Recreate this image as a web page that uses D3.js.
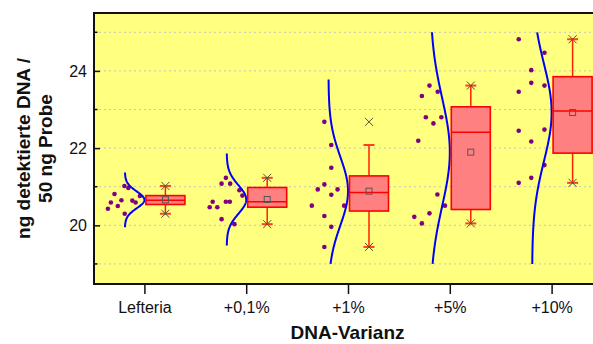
<!DOCTYPE html>
<html>
<head>
<meta charset="utf-8">
<script src="https://cdn.jsdelivr.net/npm/d3@7/dist/d3.min.js"></script>
<style>
  html, body { margin: 0; padding: 0; background: #fff; }
  svg { display: block; }
  text { font-family: "Liberation Sans", Arial, sans-serif; }
</style>
</head>
<body>
<svg id="chart" width="593" height="344"></svg>
<script>
// Groups along the x axis
const categories = ["Lefteria", "+0,1%", "+1%", "+5%", "+10%"];

// Individual measurements (ng detected DNA per 50 ng sample), one list per group
const valuesLefteria = [21.02, 20.97, 20.81, 20.76, 20.65, 20.59, 20.64, 20.59, 20.50, 20.43, 20.30];
const valuesP01 = [21.23, 21.08, 21.08, 20.91, 20.77, 20.61, 20.61, 20.61, 20.47, 20.47, 20.16, 20.03];
const valuesP1 = [22.68, 22.08, 21.49, 21.06, 20.93, 20.93, 20.79, 20.51, 20.51, 20.24, 19.96, 19.44];
const valuesP5 = [23.62, 23.35, 23.46, 22.80, 22.80, 22.64, 22.19, 20.80, 20.51, 20.31, 20.22, 20.05];
const valuesP10 = [24.82, 24.47, 24.02, 23.69, 23.62, 23.46, 22.45, 22.48, 22.17, 21.56, 21.23, 21.10];

// Jitter of each point inside its scatter strip (0 = left, 1 = right)
const jitterLefteria = [0.50, 0.62, 0.20, 0.97, 0.41, 0.09, 0.74, 0.84, 0.30, 0.00, 0.51];
const jitterP01 = [0.49, 0.36, 0.62, 0.90, 0.99, 0.09, 0.49, 0.61, 0.00, 0.23, 0.36, 0.75];
const jitterP1 = [0.39, 0.60, 0.60, 0.39, 0.19, 0.79, 0.60, 0.01, 0.99, 0.39, 0.60, 0.39];
const jitterP5 = [0.49, 0.26, 0.74, 0.38, 0.85, 0.61, 0.15, 0.73, 0.96, 0.49, 0.03, 0.26];
const jitterP10 = [0.11, 0.89, 0.49, 0.49, 0.89, 0.11, 0.11, 0.89, 0.49, 0.89, 0.49, 0.11];

// Box statistics per group
const q1 = [20.54, 20.47, 20.37, 20.41, 21.87];
const median = [20.65, 20.61, 20.85, 22.41, 22.96];
const q3 = [20.77, 20.98, 21.28, 23.07, 23.85];
const whiskerLow = [20.30, 20.03, 19.44, 20.05, 21.10];
const whiskerHigh = [21.02, 21.23, 22.08, 23.62, 24.82];

// Axis ticks
const majorTicks = [20, 22, 24];
const minorTicks = [19, 21, 23, 25];
const gridTicks = [19, 20, 21, 22, 23, 24, 25];
const yDomain = [18.48, 25.5];
const curveLimits = [19, 25];

const groups = categories.map((c, i) => ({
  name: c,
  values: [valuesLefteria, valuesP01, valuesP1, valuesP5, valuesP10][i],
  jitter: [jitterLefteria, jitterP01, jitterP1, jitterP5, jitterP10][i],
  q1: q1[i], median: median[i], q3: q3[i],
  wLo: whiskerLow[i], wHi: whiskerHigh[i]
}));

const svg = d3.select("#chart");
const plot = { left: 94, right: 603, top: 13, bottom: 284 };

const x = d3.scaleBand().domain(categories).range([plot.left, plot.right]).padding(0);
const y = d3.scaleLinear().domain(yDomain).range([plot.bottom, plot.top]);
const xc = c => x(c) + x.bandwidth() / 2;

// Plot background
svg.append("rect")
  .attr("x", plot.left).attr("y", plot.top)
  .attr("width", plot.right - plot.left).attr("height", plot.bottom - plot.top)
  .attr("fill", "#ffff80");

// Dotted grid
svg.append("g").selectAll("line").data(gridTicks).join("line")
  .attr("x1", plot.left).attr("x2", plot.right)
  .attr("y1", d => y(d)).attr("y2", d => y(d))
  .attr("stroke", "#c4c4c4").attr("stroke-width", 1)
  .attr("stroke-dasharray", "2,3");

svg.append("clipPath").attr("id", "plotClip").append("rect")
  .attr("x", plot.left).attr("y", plot.top)
  .attr("width", plot.right - plot.left).attr("height", plot.bottom - plot.top);

const layer = svg.append("g").attr("clip-path", "url(#plotClip)");

groups.forEach(g => {
  const cx = xc(g.name);
  const mean = d3.mean(g.values);
  const sd = d3.deviation(g.values);

  // Jittered raw points
  const jx = d3.scaleLinear().domain([0, 1]).range([cx - 37, cx - 4]);
  layer.append("g").selectAll("circle").data(g.values).join("circle")
    .attr("cx", (d, i) => jx(g.jitter[i]))
    .attr("cy", d => y(d))
    .attr("r", 2.3)
    .attr("fill", "#800080");

  // Normal distribution curve
  const lo = Math.max(curveLimits[0], mean - 3.25 * sd);
  const hi = Math.min(curveLimits[1], mean + 3.25 * sd);
  const base = cx - 20, amp = 19.5;
  const pts = d3.range(0, 201).map(k => {
    const v = lo + (hi - lo) * k / 200;
    const z = (v - mean) / sd;
    return [base + amp * Math.exp(-0.5 * z * z), y(v)];
  });
  layer.append("path")
    .attr("d", d3.line()(pts))
    .attr("fill", "none").attr("stroke", "#0000ff").attr("stroke-width", 2);

  // Box with whiskers
  const bx0 = cx + 1, bx1 = cx + 40, wx = (bx0 + bx1) / 2;
  const bg = layer.append("g");
  bg.append("line").attr("x1", wx).attr("x2", wx)
    .attr("y1", y(g.wHi)).attr("y2", y(g.q3))
    .attr("stroke", "#ff2000").attr("stroke-width", 1.5);
  bg.append("line").attr("x1", wx).attr("x2", wx)
    .attr("y1", y(g.q1)).attr("y2", y(g.wLo))
    .attr("stroke", "#ff2000").attr("stroke-width", 1.5);
  [g.wHi, g.wLo].forEach(v => {
    bg.append("line").attr("x1", wx - 5.5).attr("x2", wx + 5.5)
      .attr("y1", y(v)).attr("y2", y(v))
      .attr("stroke", "#ff4020").attr("stroke-width", 2);
  });
  bg.append("rect")
    .attr("x", bx0).attr("y", y(g.q3))
    .attr("width", bx1 - bx0).attr("height", y(g.q1) - y(g.q3))
    .attr("fill", "#ff8080").attr("stroke", "#ff0000").attr("stroke-width", 1.6);
  bg.append("line").attr("x1", bx0).attr("x2", bx1)
    .attr("y1", y(g.median)).attr("y2", y(g.median))
    .attr("stroke", "#ff0000").attr("stroke-width", 1.6);

  // Min / max crosses
  [d3.max(g.values), d3.min(g.values)].forEach(v => {
    const cy = y(v), s = 4;
    bg.append("path")
      .attr("d", `M${wx - s},${cy - s}L${wx + s},${cy + s}M${wx - s},${cy + s}L${wx + s},${cy - s}`)
      .attr("stroke", "#505040").attr("stroke-width", 1).attr("fill", "none");
  });

  // Mean marker
  bg.append("rect")
    .attr("x", wx - 3).attr("y", y(mean) - 3)
    .attr("width", 6).attr("height", 6)
    .attr("fill", "none").attr("stroke", "#555").attr("stroke-width", 1);
});

// Plot frame
svg.append("path")
  .attr("d", `M${plot.right},${plot.top}H${plot.left}V${plot.bottom}H${plot.right}`)
  .attr("fill", "none").attr("stroke", "#111").attr("stroke-width", 2);

// Y axis (ticks point inward)
const yAxis = d3.axisLeft(y).tickValues(majorTicks).tickSizeInner(-6).tickSizeOuter(0).tickPadding(7)
  .tickFormat(d3.format("d"));
const yg = svg.append("g").attr("transform", `translate(${plot.left},0)`).call(yAxis);
yg.select(".domain").remove();
yg.selectAll(".tick line").attr("stroke", "#111").attr("stroke-width", 1.5);
yg.selectAll(".tick text").attr("font-size", 16).attr("fill", "#111");
svg.append("g").selectAll("line").data(minorTicks).join("line")
  .attr("x1", plot.left).attr("x2", plot.left + 3.5)
  .attr("y1", d => y(d)).attr("y2", d => y(d))
  .attr("stroke", "#111").attr("stroke-width", 1.5);

// X axis (ticks point outward)
const xAxis = d3.axisBottom(x).tickSizeInner(10).tickSizeOuter(0).tickPadding(7.5);
const xg = svg.append("g").attr("transform", `translate(0,${plot.bottom})`).call(xAxis);
xg.select(".domain").remove();
xg.selectAll(".tick line").attr("stroke", "#111").attr("stroke-width", 1.5);
xg.selectAll(".tick text").attr("font-size", 16).attr("fill", "#111");

// Axis titles
svg.append("text")
  .attr("x", (plot.left + plot.right) / 2 - 1).attr("y", 339)
  .attr("text-anchor", "middle").attr("font-size", 19).attr("font-weight", "bold")
  .attr("fill", "#111").text("DNA-Varianz");

const yTitle = svg.append("text")
  .attr("transform", `translate(0,${(plot.top + plot.bottom) / 2}) rotate(-90)`)
  .attr("text-anchor", "middle").attr("font-size", 19).attr("font-weight", "bold")
  .attr("fill", "#111");
yTitle.append("tspan").attr("x", 0).attr("y", 30).text("ng detektierte DNA /");
yTitle.append("tspan").attr("x", 0).attr("y", 52).text("50 ng Probe");
</script>
</body>
</html>
